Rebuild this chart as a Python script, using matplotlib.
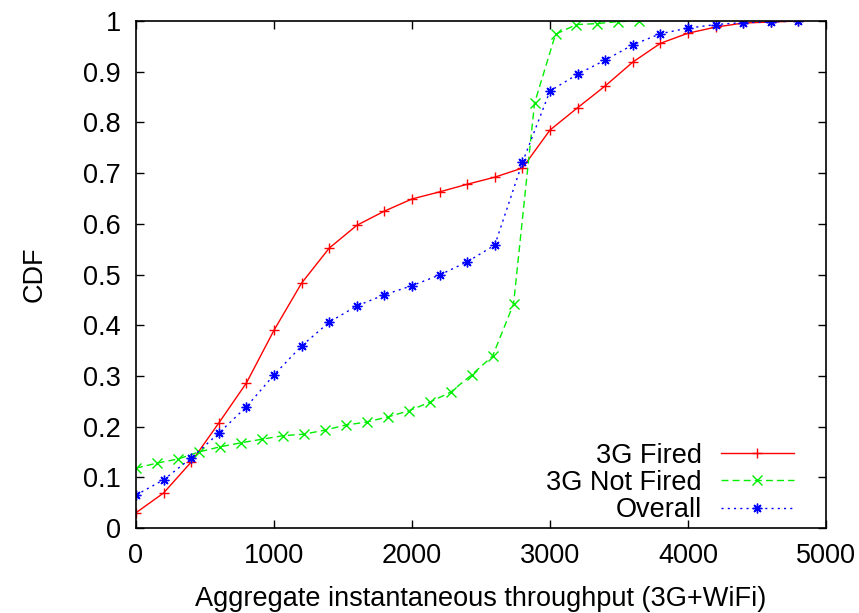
import numpy as np
import matplotlib.pyplot as plt
from matplotlib.ticker import FuncFormatter

plt.rcParams['font.family'] = ['Liberation Sans', 'DejaVu Sans']

# throughput samples (x) and CDF values for each group
x_fired = [0, 200, 400, 600, 800, 1000, 1200, 1400, 1600, 1800, 2000, 2200, 2400,
           2600, 2800, 3000, 3200, 3400, 3600, 3800, 4000, 4200, 4400, 4600, 4800]
cdf_fired = [0.03, 0.069, 0.13, 0.207, 0.286, 0.39, 0.483, 0.552, 0.597, 0.625, 0.649,
             0.663, 0.678, 0.692, 0.71, 0.785, 0.829, 0.872, 0.919, 0.956, 0.976,
             0.988, 0.996, 0.998, 1.0]

x_not_fired = [0, 152, 304, 456, 608, 760, 912, 1064, 1216, 1368, 1520, 1672, 1824,
               1976, 2128, 2280, 2432, 2584, 2736, 2888, 3040, 3192, 3344, 3496, 3648]
cdf_not_fired = [0.118, 0.128, 0.136, 0.15, 0.16, 0.168, 0.175, 0.182, 0.185, 0.193,
                 0.203, 0.209, 0.219, 0.231, 0.248, 0.268, 0.302, 0.339, 0.442, 0.838,
                 0.974, 0.993, 0.995, 0.999, 1.0]

x_overall = x_fired
cdf_overall = [0.065, 0.095, 0.138, 0.187, 0.239, 0.302, 0.359, 0.406, 0.438, 0.46,
               0.478, 0.499, 0.525, 0.558, 0.721, 0.862, 0.895, 0.923, 0.953, 0.975,
               0.986, 0.993, 0.997, 0.998, 1.0]

fs = 19.5

fig = plt.figure(figsize=(8.59, 6.13), dpi=100)
ax = fig.add_axes([0.1583, 0.1387, 0.8033, 0.827])

ax.plot(x_fired, cdf_fired, color='#ff0000', lw=1.0, ls='-',
        marker='+', ms=7, mew=1.0, label='3G Fired')
ax.plot(x_not_fired, cdf_not_fired, color='#00ee00', lw=1.0, ls=(0, (5, 3)),
        marker='x', ms=7.5, mew=1.0, label='3G Not Fired')
ax.plot(x_overall, cdf_overall, color='#0000ff', lw=1.0, ls=(0, (1.5, 3)),
        marker=(8, 2, 0), ms=7, mew=1.0, label='Overall')

ax.set_xlim(0, 5000)
ax.set_ylim(0, 1)
ax.set_xticks(np.arange(0, 5001, 1000))
ax.set_yticks(np.arange(0, 1.01, 0.1))
ax.yaxis.set_major_formatter(FuncFormatter(lambda v, p: '%g' % round(v, 1)))
ax.tick_params(direction='in', top=True, right=True, length=6, width=1,
               labelsize=fs, pad=11)
for s in ax.spines.values():
    s.set_linewidth(1.2)

ax.set_xlabel('Aggregate instantaneous throughput (3G+WiFi)', fontsize=fs, labelpad=12)
ax.set_ylabel('CDF', fontsize=fs, labelpad=25)

ax.legend(loc='lower right', bbox_to_anchor=(0.981, -0.028), frameon=False,
          markerfirst=False, fontsize=fs, handlelength=2.7, handletextpad=0.7,
          labelspacing=0.05, borderaxespad=0.4, borderpad=0.3)

fig.savefig('out.png')
